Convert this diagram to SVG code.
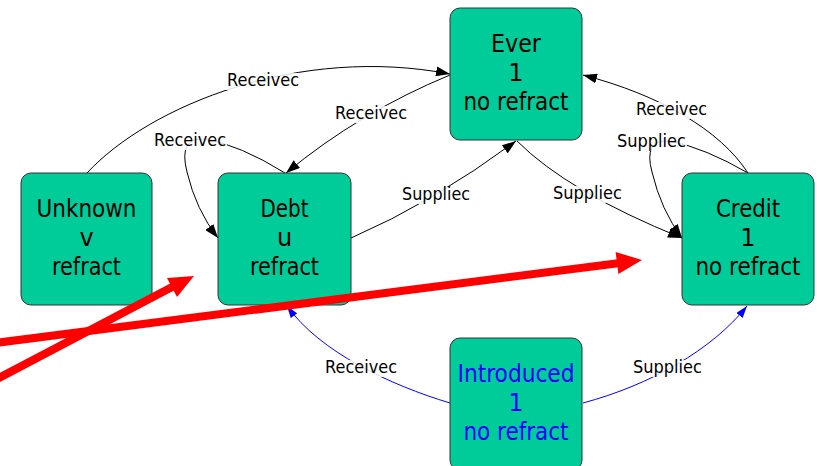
<svg xmlns="http://www.w3.org/2000/svg" width="817" height="466" viewBox="0 0 817 466">
<style>
.node rect{fill:#00cc99;stroke:#333;stroke-width:1}
.node text{font-family:"DejaVu Sans",Verdana,sans-serif;font-size:24px;text-anchor:middle;fill:#000}
.node.blue text{fill:#0000ff}
.edge{fill:none;stroke:#000;stroke-width:1}
.edge.blue{stroke:#0000ff}
.lbl rect{fill:#fff;opacity:0.85}
.lbl text{font-family:"DejaVu Sans",Verdana,sans-serif;font-size:18px;fill:#000}
.red{stroke:#ff0000;stroke-width:8;fill:none}
</style>
<defs>
<marker id="ah" viewBox="0 0 14 10" refX="14" refY="5" markerWidth="14" markerHeight="10" markerUnits="userSpaceOnUse" orient="auto">
<path d="M0,0 L14,5 L0,10 z" fill="#000"/>
</marker>
<marker id="ahb" viewBox="0 0 12 8" refX="12" refY="4" markerWidth="12" markerHeight="8" markerUnits="userSpaceOnUse" orient="auto">
<path d="M0,0 L12,4 L0,8 z" fill="#0000ff"/>
</marker>
</defs>
<g id="connectors">
<path class="edge" d="M87,173 C150,105 300,45 450,74" marker-end="url(#ah)"/>
<path class="edge" d="M450,75 Q360,112 286,173" marker-end="url(#ah)"/>
<path class="edge" d="M285,173 Q240,145 205,139 Q178,137 187,172 Q196,210 218,238" marker-end="url(#ah)"/>
<path class="edge" d="M748,173 C720,130 660,95 583,75" marker-end="url(#ah)"/>
<path class="edge" d="M748,173 Q705,148 670,141 Q643,139 652,172 Q661,210 682,238" marker-end="url(#ah)"/>
<path class="edge" d="M351,238 Q432,203 516,141" marker-end="url(#ah)"/>
<path class="edge" d="M517,141 Q568,192 682,238" marker-end="url(#ah)"/>
<path class="edge blue" d="M450,403 C390,385 320,352 287,306" marker-end="url(#ahb)"/>
<path class="edge blue" d="M583,403 C650,385 712,350 747,306" marker-end="url(#ahb)"/>
<g class="lbl"><rect x="226" y="73" width="74" height="17"/><text x="227" y="86" textLength="72" lengthAdjust="spacingAndGlyphs">Receivec</text></g>
<g class="lbl"><rect x="334" y="106" width="74" height="17"/><text x="335" y="119" textLength="72" lengthAdjust="spacingAndGlyphs">Receivec</text></g>
<g class="lbl"><rect x="153" y="133" width="74" height="17"/><text x="154" y="146" textLength="72" lengthAdjust="spacingAndGlyphs">Receivec</text></g>
<g class="lbl"><rect x="401" y="187" width="70" height="17"/><text x="402" y="200" textLength="68" lengthAdjust="spacingAndGlyphs">Suppliec</text></g>
<g class="lbl"><rect x="552" y="186" width="71" height="17"/><text x="553" y="199" textLength="69" lengthAdjust="spacingAndGlyphs">Suppliec</text></g>
<g class="lbl"><rect x="635" y="102" width="73" height="17"/><text x="636" y="115" textLength="71" lengthAdjust="spacingAndGlyphs">Receivec</text></g>
<g class="lbl"><rect x="616" y="134" width="71" height="17"/><text x="617" y="147" textLength="69" lengthAdjust="spacingAndGlyphs">Suppliec</text></g>
<g class="lbl"><rect x="324" y="360" width="74" height="17"/><text x="325" y="373" textLength="72" lengthAdjust="spacingAndGlyphs">Receivec</text></g>
<g class="lbl"><rect x="632" y="360" width="71" height="17"/><text x="633" y="373" textLength="69" lengthAdjust="spacingAndGlyphs">Suppliec</text></g>
</g>
<g id="unknown" class="node"><rect x="21" y="173" width="131" height="132" rx="10"/><text x="86.5" y="217" textLength="100" lengthAdjust="spacingAndGlyphs">Unknown</text><text x="86.5" y="246">v</text><text x="86.5" y="275" textLength="69" lengthAdjust="spacingAndGlyphs">refract</text></g>
<g id="debt" class="node"><rect x="218" y="173" width="133" height="132" rx="10"/><text x="284.5" y="217" textLength="48" lengthAdjust="spacingAndGlyphs">Debt</text><text x="284.5" y="246">u</text><text x="284.5" y="275" textLength="69" lengthAdjust="spacingAndGlyphs">refract</text></g>
<g id="ever" class="node"><rect x="450" y="8" width="132" height="132" rx="10"/><text x="516" y="52" textLength="50" lengthAdjust="spacingAndGlyphs">Ever</text><text x="516" y="81">1</text><text x="516" y="110" textLength="105" lengthAdjust="spacingAndGlyphs">no refract</text></g>
<g id="credit" class="node"><rect x="682" y="173" width="132" height="132" rx="10"/><text x="748" y="217" textLength="64" lengthAdjust="spacingAndGlyphs">Credit</text><text x="748" y="246">1</text><text x="748" y="275" textLength="105" lengthAdjust="spacingAndGlyphs">no refract</text></g>
<g id="introduced" class="node blue"><rect x="450" y="338" width="132" height="132" rx="10"/><text x="516" y="382" textLength="117" lengthAdjust="spacingAndGlyphs">Introduced</text><text x="516" y="411">1</text><text x="516" y="440" textLength="105" lengthAdjust="spacingAndGlyphs">no refract</text></g>
<g id="red-arrows">
<line class="red" x1="-5" y1="380" x2="174" y2="286"/>
<polygon points="194,276 167,278 177,297" fill="#ff0000"/>
<line class="red" x1="-5" y1="343" x2="620" y2="263"/>
<polygon points="642,260 615.6,252 618.4,274" fill="#ff0000"/>
</g>
</svg>
